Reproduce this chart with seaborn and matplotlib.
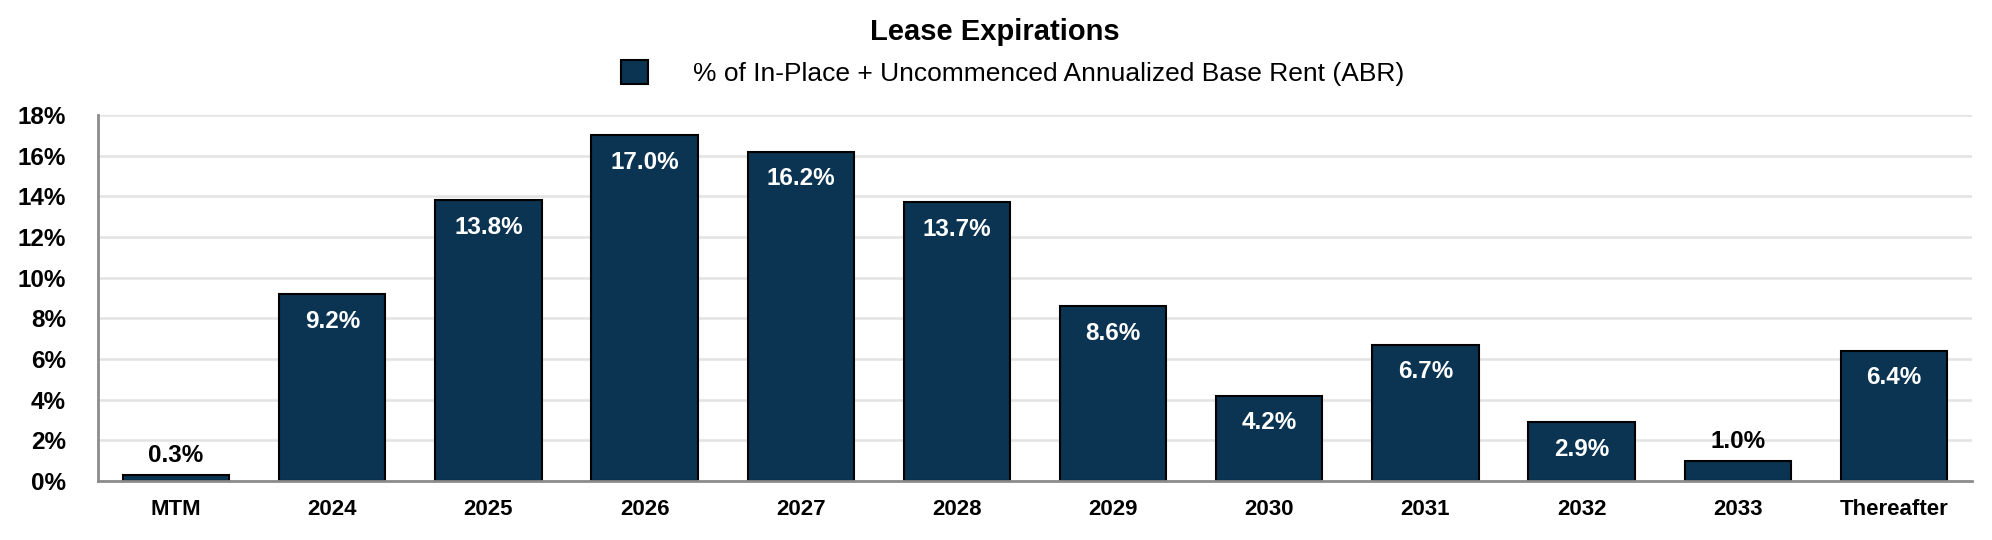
import matplotlib.pyplot as plt
import pandas as pd
import seaborn as sns
from matplotlib.patches import Patch

categories = ['MTM', '2024', '2025', '2026', '2027', '2028', '2029', '2030', '2031', '2032', '2033', 'Thereafter']
abr_pct = [0.3, 9.2, 13.8, 17.0, 16.2, 13.7, 8.6, 4.2, 6.7, 2.9, 1.0, 6.4]
y_ticks = [0, 2, 4, 6, 8, 10, 12, 14, 16, 18]
series_name = '% of In-Place + Uncommenced Annualized Base Rent (ABR)'

bar_color = '#0A3451'
grid_color = '#E3E3E3'
axis_color = '#8C8C8C'

sns.set_style('white')
plt.rcParams['font.family'] = ['Liberation Sans', 'DejaVu Sans']
plt.rcParams['text.color'] = 'black'
plt.rcParams['xtick.labelcolor'] = 'black'
plt.rcParams['ytick.labelcolor'] = 'black'

df = pd.DataFrame({'period': categories, 'pct': abr_pct})

fig = plt.figure(figsize=(19.92, 5.40), dpi=100)
ax = fig.add_axes([98 / 1992, 1 - 481 / 540, (1972 - 98) / 1992, (481 - 115) / 540])

sns.barplot(data=df, x='period', y='pct', color=bar_color, saturation=1, width=0.68,
            edgecolor='black', linewidth=1.5, ax=ax, zorder=3)

ax.set_xlim(-0.5, len(categories) - 0.5)
ax.set_ylim(0, 18)
ax.set_yticks(y_ticks)
ax.set_yticklabels([f'{t}%' for t in y_ticks])
ax.yaxis.grid(True, color=grid_color, linewidth=1.8, zorder=0)
ax.set_axisbelow(True)

for side in ['top', 'right']:
    ax.spines[side].set_visible(False)
for side in ['left', 'bottom']:
    ax.spines[side].set_color(axis_color)
    ax.spines[side].set_linewidth(2)
    ax.spines[side].set_zorder(4)

ax.tick_params(axis='y', length=8, width=1.5, color=axis_color, pad=15, labelsize=17.5, labelcolor='black')
ax.tick_params(axis='x', length=8, width=1.5, color=axis_color, pad=5, labelsize=16, labelcolor='black')
for lbl in ax.get_xticklabels() + ax.get_yticklabels():
    lbl.set_fontweight('bold')
ax.set_xlabel('')
ax.set_ylabel('')

# value labels: inside for tall bars, above for short ones
for patch, val in zip(ax.patches, abr_pct):
    cx = patch.get_x() + patch.get_width() / 2
    if val >= 2:
        ax.annotate(f'{val:.1f}%', (cx, val), xytext=(0, -19.5), textcoords='offset points',
                    ha='center', va='center', color='white', fontsize=17.5, fontweight='bold', zorder=5)
    else:
        ax.annotate(f'{val:.1f}%', (cx, val), xytext=(0, 14), textcoords='offset points',
                    ha='center', va='center', color='black', fontsize=17.5, fontweight='bold', zorder=5)

fig.text(995 / 1992, 1 - 32 / 540, 'Lease Expirations', ha='center', va='center',
         fontsize=21, fontweight='bold', color='black')

handle = Patch(facecolor=bar_color, edgecolor='black', linewidth=1.5)
fig.legend([handle], [series_name], loc='center left', bbox_to_anchor=(621 / 1992, 1 - 73 / 540),
           frameon=False, fontsize=19, handlelength=1.02, handleheight=1.05, handletextpad=1.7,
           borderpad=0, borderaxespad=0, labelcolor='black')

fig.savefig('out.png', dpi=100)
